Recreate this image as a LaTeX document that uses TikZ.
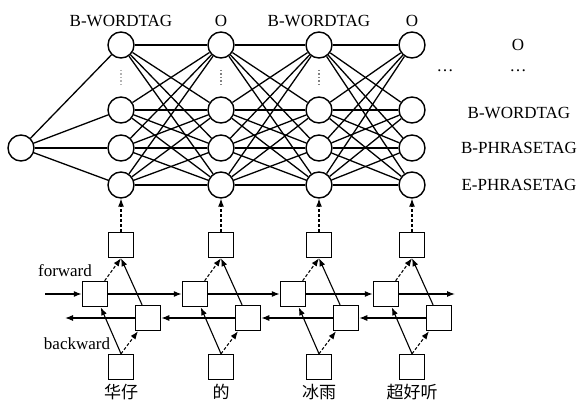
\documentclass[tikz,border=0pt]{standalone}
\usepackage{fontspec}
\setmainfont{Liberation Serif}
\newfontfamily\cjk{Noto Sans CJK SC}
\usetikzlibrary{arrows.meta,positioning,calc}

\tikzset{
  tag/.style={circle, draw, line width=1.4pt, minimum size=26pt, inner sep=0pt},
  cell/.style={draw, line width=1.5pt, minimum size=25pt, inner sep=0pt},
  lbl/.style={font=\fontsize{17}{17}\selectfont},
  link/.style={line width=1.3pt},
  flow/.style={line width=1.1pt, -{Latex[length=8pt,width=6pt]}},
  vdot/.style={gray, line width=1.2pt, dash pattern=on 1.5pt off 2pt},
}

\begin{document}
\begin{tikzpicture}[x=1pt,y=-1pt]
    \useasboundingbox (0,0) rectangle (579,401);

    % start node
    \node[tag] (s) at (21,148) {};

    % tag lattice and lstm cells per word
    \foreach \i/\x in {1/121,2/221,3/319,4/412}{
      \node[tag] (t\i-1) at (\x,45) {};
      \node[tag] (t\i-2) at (\x,110) {};
      \node[tag] (t\i-3) at (\x,148) {};
      \node[tag] (t\i-4) at (\x,185) {};
      \node[cell] (o\i) at (\x,245) {};
      \node[cell] (f\i) at (\x-26,294) {};
      \node[cell] (b\i) at (\x+27,318) {};
      \node[cell] (w\i) at (\x,367) {};
      \draw[flow, densely dashed] (o\i) -- (t\i-4);
      \draw[flow] (w\i.north) -- (f\i);
      \draw[flow, densely dashed] (w\i.north) -- (b\i);
      \draw[flow, densely dashed] (f\i) -- (o\i.south);
      \draw[flow] (b\i) -- (o\i.south);
    }

    % vertical dots
    \draw[vdot, gray!60] (121,70) -- (121,86);
    \draw[vdot] (221,70) -- (221,86);
    \draw[vdot] (319,70) -- (319,86);

    % start to first column
    \foreach \j in {1,...,4}
      \draw[link] (s) -- (t1-\j);

    % full links between columns
    \foreach \i/\n in {1/2,2/3,3/4}
      \foreach \j in {1,...,4}
        \foreach \k in {1,...,4}
          \draw[link] (t\i-\j) -- (t\n-\k);

    % forward and backward chains
    \coordinate (fin) at (45,294);
    \coordinate (fout) at (455,294);
    \coordinate (bout) at (65,318);
    \draw[flow] (fin) -- (f1);
    \draw[flow] (f1) -- (f2);
    \draw[flow] (f2) -- (f3);
    \draw[flow] (f3) -- (f4);
    \draw[flow] (f4) -- (fout);
    \draw[flow] (b4) -- (b3);
    \draw[flow] (b3) -- (b2);
    \draw[flow] (b2) -- (b1);
    \draw[flow] (b1) -- (bout);

    % tags on top
    \node[lbl, above=1pt of t1-1] (h1) {B-WORDTAG};
    \node[lbl, above=1pt of t2-1] (h2) {O};
    \node[lbl, above=1pt of t3-1] (h3) {B-WORDTAG};
    \node[lbl, above=1pt of t4-1] (h4) {O};

    % tag list on the right
    \node[lbl] (r1) at (518,45) {O};
    \node[lbl] (r2) at (518,71) {\dots};
    \node[lbl] (r0) at (445,71) {\dots};
    \node[lbl] (r3) at (519,113) {B-WORDTAG};
    \node[lbl] (r4) at (519,148) {B-PHRASETAG};
    \node[lbl] (r5) at (519,185) {E-PHRASETAG};

    % direction labels
    \node[lbl] (fw) at (65,271) {forward};
    \node[lbl] (bw) at (77,344) {backward};

    % words
    \node[lbl, below=0pt of w1] (c1) {\cjk 华仔};
    \node[lbl, below=0pt of w2] (c2) {\cjk 的};
    \node[lbl, below=0pt of w3] (c3) {\cjk 冰雨};
    \node[lbl, below=0pt of w4] (c4) {\cjk 超好听};
  \end{tikzpicture}
\end{document}
